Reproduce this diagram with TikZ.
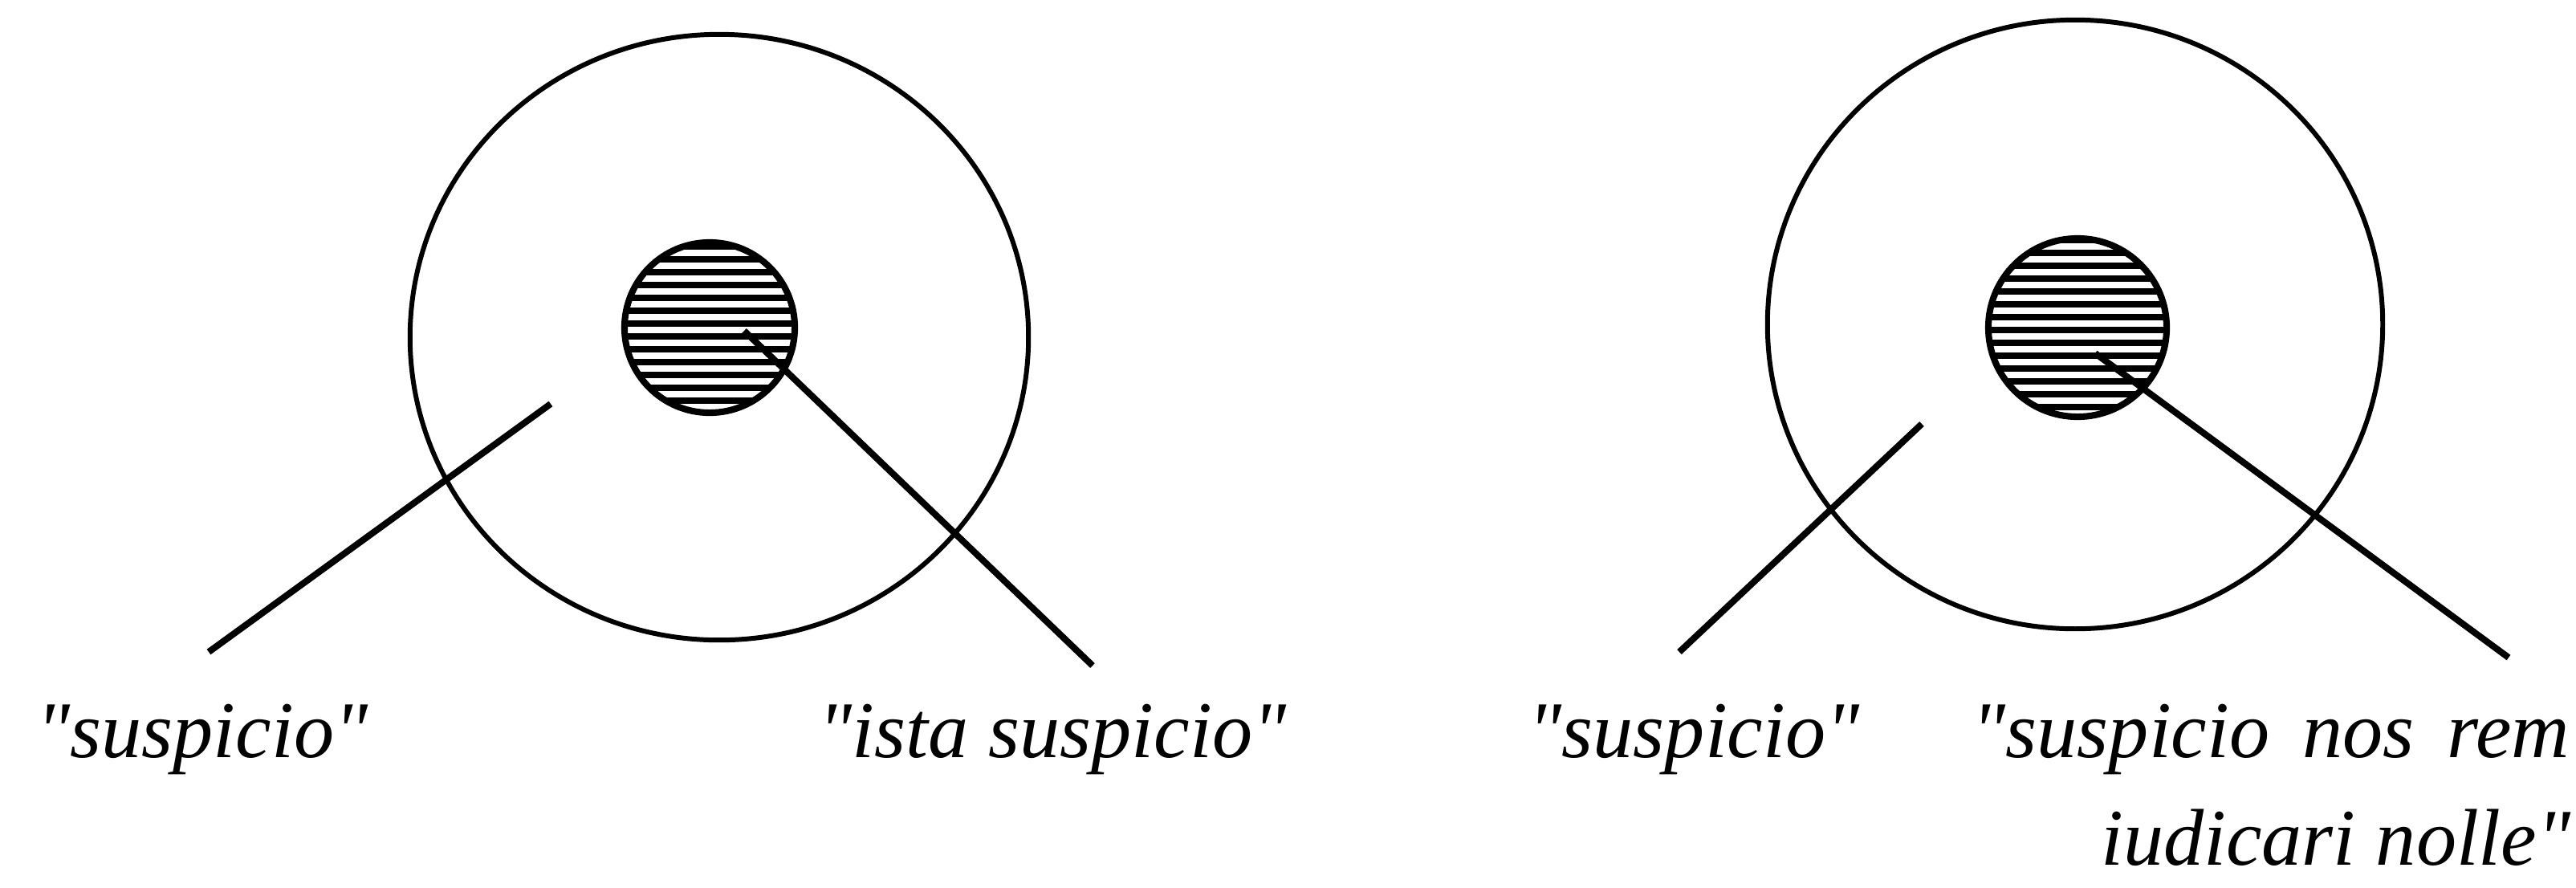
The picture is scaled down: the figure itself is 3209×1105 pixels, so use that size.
\documentclass[tikz,border=0pt]{standalone}
\usepackage{fontspec}
\setmainfont{Liberation Serif}[Ligatures=TeXOff]
\usetikzlibrary{shapes.geometric}
\begin{document}
\begin{tikzpicture}[x=0.01cm,y=-0.01cm,
  ring/.style={ellipse,draw,line width=1.7pt,inner sep=0pt},
  core/.style={circle,draw,line width=2.3pt,inner sep=0pt},
  hatch/.style={line width=2.3pt},
  pointer/.style={line width=2.3pt},
  lbl/.style={font=\fontsize{28.5}{34}\selectfont\itshape,inner sep=0pt,anchor=base west}]
\useasboundingbox[fill=white] (0,0) rectangle (3209,1105);
% left diagram
\node[ring,minimum width=7.7cm,minimum height=7.54cm] (LB) at (896,420) {};
\begin{scope}
  \clip (884,408) circle (106);
  \foreach \k in {-6,...,6} \draw[hatch] (770,403+\k*16) -- (1000,403+\k*16);
\end{scope}
\node[core,minimum size=2.12cm] (LS) at (884,408) {};
\coordinate (La1) at (686,503);
\coordinate (La2) at (260,812);
\coordinate (Lb1) at (927,412);
\coordinate (Lb2) at (1361,829);
\draw[pointer] (La1) -- (La2);
\draw[pointer] (Lb1) -- (Lb2);
% right diagram
\node[ring,minimum width=7.66cm,minimum height=7.58cm] (RB) at (2585,404) {};
\begin{scope}
  \clip (2588,408) circle (111);
  \foreach \k in {-7,...,7} \draw[hatch] (2470,411+\k*16) -- (2710,411+\k*16);
\end{scope}
\node[core,minimum size=2.22cm] (RS) at (2588,408) {};
\coordinate (Rc1) at (2394,528);
\coordinate (Rc2) at (2092,812);
\coordinate (Rd1) at (2610,440);
\coordinate (Rd2) at (3125,819);
\draw[pointer] (Rc1) -- (Rc2);
\draw[pointer] (Rd1) -- (Rd2);
% labels
\node[lbl] (t1) at (45,943) {"suspicio"};
\node[lbl] (t2) at (1019,943) {"ista suspicio"};
\node[lbl] (t3) at (1903,943) {"suspicio"};
\node[lbl] (t4) at (2456,943) {\makebox[7.44cm][s]{"suspicio nos rem}};
\node[lbl,anchor=base east] (t5) at (3203,1077) {iudicari nolle"};
\end{tikzpicture}
\end{document}
